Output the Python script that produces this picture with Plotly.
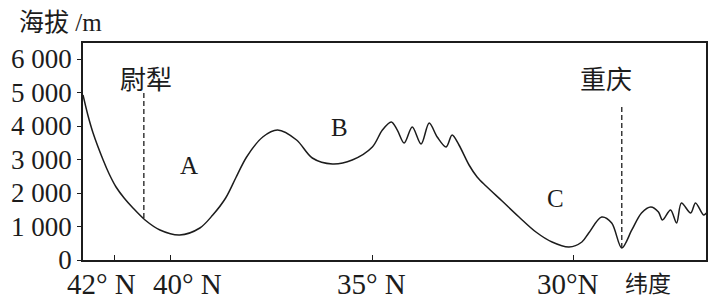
import plotly.graph_objects as go

# profile data: latitude (°N) and elevation (m)
lat = [42.18, 42.06, 41.93, 41.68, 41.53, 41.36, 41.16, 40.94, 40.64, 40.27, 39.78,
       39.28, 38.96, 38.64, 38.39, 38.12, 37.72, 37.35, 36.88, 36.49, 35.99, 35.50,
       35.00, 34.75, 34.53, 34.38, 34.21, 34.01, 33.79, 33.59, 33.39, 33.17, 33.02,
       32.85, 32.60, 32.40, 32.18, 31.78, 31.36, 30.94, 30.54, 30.12, 29.80, 29.63,
       29.31, 29.06, 28.81, 28.56, 28.32, 28.09, 27.90, 27.80, 27.60, 27.45, 27.33,
       27.10, 26.98, 26.78, 26.71]
elev = [4925, 4328, 3791, 2985, 2567, 2179, 1851, 1552, 1194, 896, 746,
        955, 1343, 1851, 2448, 3075, 3672, 3880, 3582, 3045, 2866, 2985,
        3373, 3880, 4119, 3880, 3492, 3970, 3463, 4090, 3672, 3373, 3731,
        3433, 2836, 2478, 2209, 1761, 1284, 836, 537, 388, 537, 806,
        1284, 1104, 358, 896, 1403, 1582, 1433, 1194, 1493, 1104, 1701,
        1403, 1701, 1343, 1403]

y_tickvals = [0, 1000, 2000, 3000, 4000, 5000, 6000]
y_ticktext = ["0", "1 000", "2 000", "3 000", "4 000", "5 000", "6 000"]

x_tick_marks = [41.41, 40, 35, 30]
x_label_pos = [41.71, 39.58, 35.02, 30.15, 28.17]
x_label_text = ["42° N", "40° N", "35° N", "30°N", "纬度"]

cities = ["尉犁", "重庆"]
city_lat = [40.67, 28.81]
city_label_lat = [40.62, 29.21]
city_dash_top = [5075, 4567]
city_dash_bottom = [1254, 358]

region_labels = ["A", "B", "C"]
region_lat = [39.55, 35.82, 30.45]
region_elev = [2836, 3970, 1851]

SERIF = "Liberation Serif, Times New Roman, serif"
CJK = "Noto Sans CJK SC"
INK = "#1c1c1c"

fig = go.Figure()
fig.add_trace(go.Scatter(x=lat, y=elev, mode="lines",
                         line=dict(color=INK, width=1.5, shape="spline", smoothing=0.9),
                         hoverinfo="skip", showlegend=False))

shapes = []
for i in range(len(cities)):
    shapes.append(dict(type="line", xref="x", yref="y",
                       x0=city_lat[i], x1=city_lat[i],
                       y0=city_dash_bottom[i], y1=city_dash_top[i],
                       line=dict(color=INK, width=1.3, dash="5px,3px")))

annotations = []
for t, x in zip(x_label_text, x_label_pos):
    is_cjk = t == "纬度"
    annotations.append(dict(text=t, x=x, xref="x", y=-0.10 if is_cjk else -0.112,
                            yref="paper", xanchor="center", yanchor="middle",
                            showarrow=False,
                            font=dict(family=CJK if is_cjk else SERIF,
                                      size=23 if is_cjk else 29, color=INK)))
for c, x in zip(cities, city_label_lat):
    annotations.append(dict(text=c, x=x, xref="x", y=5463, yref="y",
                            xanchor="center", yanchor="middle", showarrow=False,
                            font=dict(family=CJK, size=26, color=INK)))
for t, x, y in zip(region_labels, region_lat, region_elev):
    annotations.append(dict(text=t, x=x, xref="x", y=y, yref="y",
                            xanchor="center", yanchor="middle", showarrow=False,
                            font=dict(family=SERIF, size=25, color=INK)))
annotations.append(dict(text="海拔<span style='font-family:Liberation Serif'> /m</span>",
                        x=-0.106, xref="paper", y=1.105, yref="paper",
                        xanchor="left", yanchor="middle", showarrow=False,
                        font=dict(family=CJK, size=25, color=INK)))

fig.update_layout(
    width=714, height=299,
    margin=dict(l=83, r=6, t=43, b=39),
    paper_bgcolor="white", plot_bgcolor="white",
    shapes=shapes, annotations=annotations,
    showlegend=False,
)
fig.update_xaxes(range=[42.18, 26.72], showgrid=False, zeroline=False,
                 showline=True, mirror=True, linecolor=INK, linewidth=1.5,
                 tickmode="array", tickvals=x_tick_marks, ticks="inside",
                 ticklen=5, tickcolor=INK, tickwidth=1.2, showticklabels=False)
fig.update_yaxes(range=[0, 6478], showgrid=False, zeroline=False,
                 showline=True, mirror=True, linecolor=INK, linewidth=1.5,
                 tickmode="array", tickvals=y_tickvals, ticktext=y_ticktext,
                 ticks="outside", ticklen=4, tickcolor=INK, tickwidth=1.2,
                 tickfont=dict(family=SERIF, size=27, color=INK))

fig.write_html("out.html")
